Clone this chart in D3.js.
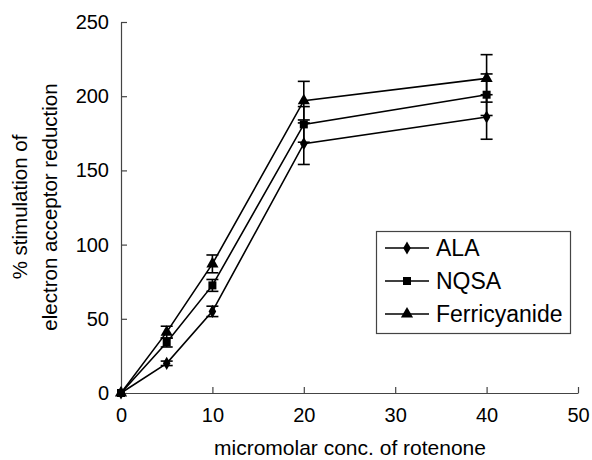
<!DOCTYPE html>
<html>
<head>
<meta charset="utf-8">
<script src="https://cdn.jsdelivr.net/npm/d3@7"></script>
<style>
  body { margin: 0; background: #fff; }
  text { font-family: "Liberation Sans", Arial, sans-serif; fill: #000; }
</style>
</head>
<body>
<div id="chart"></div>
<script>
var svgWidth = 592;
var svgHeight = 460;

// data
var concs = [0, 5, 10, 20, 40];
var seriesNames = ["ALA", "NQSA", "Ferricyanide"];
var alaValues = [0, 20, 55, 168, 186];
var alaErrors = [0, 1.5, 3.5, 14, 15];
var nqsaValues = [0, 34, 72.5, 181, 201];
var nqsaErrors = [0, 3, 4, 12, 14];
var ferriValues = [0, 41, 87, 197, 212];
var ferriErrors = [0, 4, 6, 13, 16];
var xTicks = [0, 10, 20, 30, 40, 50];
var yTicks = [0, 50, 100, 150, 200, 250];

var series = [
  { name: seriesNames[0], values: alaValues, errors: alaErrors, symbol: "diamond" },
  { name: seriesNames[1], values: nqsaValues, errors: nqsaErrors, symbol: "square" },
  { name: seriesNames[2], values: ferriValues, errors: ferriErrors, symbol: "triangle" }
];

var svg = d3.select("#chart")
  .append("svg")
  .attr("width", svgWidth)
  .attr("height", svgHeight);

var xScale = d3.scaleLinear().domain([0, 50]).range([121, 578]);
var yScale = d3.scaleLinear().domain([0, 250]).range([393, 22]);

// axes, ticks pointing inward
var xAxis = svg.append("g")
  .attr("transform", "translate(0,393)")
  .call(d3.axisBottom(xScale).tickValues(xTicks).tickSizeInner(-6).tickSizeOuter(0).tickPadding(15));

var yAxis = svg.append("g")
  .attr("transform", "translate(121,0)")
  .call(d3.axisLeft(yScale).tickValues(yTicks).tickSizeInner(-6).tickSizeOuter(0).tickPadding(12));

[xAxis, yAxis].forEach(function(ax) {
  ax.selectAll("path, line").attr("stroke", "#444").attr("stroke-width", 1.2);
  ax.selectAll("text")
    .style("font-family", "'Liberation Sans', Arial, sans-serif")
    .style("font-size", "20px")
    .attr("fill", "#000");
});

// axis titles
svg.append("text")
  .attr("x", 350)
  .attr("y", 455)
  .attr("text-anchor", "middle")
  .style("font-size", "21px")
  .text("micromolar conc. of rotenone");

var yTitle = svg.append("text")
  .attr("transform", "translate(0,207) rotate(-90)")
  .attr("text-anchor", "middle")
  .style("font-size", "20.5px");
yTitle.append("tspan").attr("x", 0).attr("y", 27).text("% stimulation of");
yTitle.append("tspan").attr("x", 0).attr("y", 57).text("electron acceptor reduction");

var symbolTypes = {
  diamond: d3.symbolDiamond,
  square: d3.symbolSquare,
  triangle: d3.symbolTriangle
};
var symbolSizes = { diamond: 50, square: 64, triangle: 64 };

var line = d3.line()
  .x(function(d) { return xScale(d.x); })
  .y(function(d) { return yScale(d.y); });

series.forEach(function(s) {
  var pts = concs.map(function(c, i) { return { x: c, y: s.values[i], e: s.errors[i] }; });
  var g = svg.append("g");

  g.append("path")
    .datum(pts)
    .attr("d", line)
    .attr("fill", "none")
    .attr("stroke", "#000")
    .attr("stroke-width", 1.6);

  // error bars
  var eb = g.selectAll(".err")
    .data(pts.filter(function(d) { return d.e > 0; }))
    .enter().append("g");
  eb.append("line")
    .attr("x1", function(d) { return xScale(d.x); })
    .attr("x2", function(d) { return xScale(d.x); })
    .attr("y1", function(d) { return yScale(d.y - d.e); })
    .attr("y2", function(d) { return yScale(d.y + d.e); })
    .attr("stroke", "#000").attr("stroke-width", 1.6);
  [-1, 1].forEach(function(sign) {
    eb.append("line")
      .attr("x1", function(d) { return xScale(d.x) - 6; })
      .attr("x2", function(d) { return xScale(d.x) + 6; })
      .attr("y1", function(d) { return yScale(d.y + sign * d.e); })
      .attr("y2", function(d) { return yScale(d.y + sign * d.e); })
      .attr("stroke", "#000").attr("stroke-width", 1.6);
  });

  g.selectAll(".mark")
    .data(pts)
    .enter().append("path")
    .attr("transform", function(d) { return "translate(" + xScale(d.x) + "," + yScale(d.y) + ")"; })
    .attr("d", d3.symbol().type(symbolTypes[s.symbol]).size(symbolSizes[s.symbol]))
    .attr("fill", "#000");
});

// legend
var legend = svg.append("g");
legend.append("rect")
  .attr("x", 376.5).attr("y", 231.5)
  .attr("width", 194).attr("height", 102)
  .attr("fill", "#fff")
  .attr("stroke", "#444").attr("stroke-width", 1.2);

var legendRows = [248, 281, 314];
series.forEach(function(s, i) {
  var ly = legendRows[i];
  legend.append("line")
    .attr("x1", 385).attr("x2", 429)
    .attr("y1", ly).attr("y2", ly)
    .attr("stroke", "#000").attr("stroke-width", 1.6);
  legend.append("path")
    .attr("transform", "translate(407," + ly + ")")
    .attr("d", d3.symbol().type(symbolTypes[s.symbol]).size(symbolSizes[s.symbol]))
    .attr("fill", "#000");
  legend.append("text")
    .attr("x", 436)
    .attr("y", ly + 8)
    .style("font-size", "23px")
    .text(s.name);
});
</script>
</body>
</html>
